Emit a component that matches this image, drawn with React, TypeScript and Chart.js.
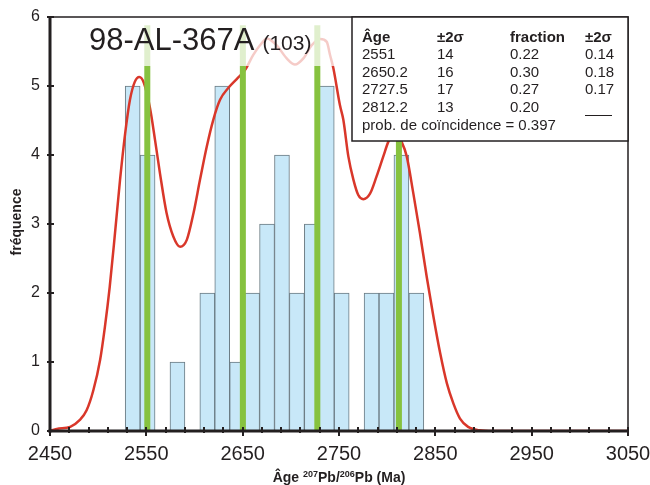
import { useEffect, useRef } from 'react';
import { Chart, registerables } from 'chart.js';

Chart.register(...registerables);

// Histogram bins (centres, Ma) and counts
const binCenters = [2535.8, 2551.3, 2566.8, 2582.3, 2597.8, 2613.3, 2628.8, 2644.3, 2659.8, 2675.3, 2690.8, 2706.3, 2721.8, 2737.3, 2752.8, 2768.3, 2783.8, 2799.3, 2814.8, 2830.3];
const binCounts = [5, 4, 0, 1, 0, 2, 5, 1, 2, 3, 4, 2, 3, 5, 2, 0, 2, 2, 4, 2];

// Probability density curve
const curveAges = [2450, 2457, 2471, 2481, 2488, 2495, 2502, 2507, 2512, 2517.5, 2522.7, 2528, 2533, 2538, 2542.7, 2547.6, 2553.8, 2559, 2564.2, 2571, 2578, 2585, 2592, 2599, 2605.7, 2612.7, 2619.5, 2626.5, 2635, 2643.8, 2652.4, 2661, 2668, 2675.3, 2685.3, 2695.7, 2704.3, 2713, 2721.7, 2730.3, 2737.3, 2740.7, 2744.1, 2751, 2754.5, 2759.7, 2765, 2770, 2775.2, 2782.2, 2789, 2796, 2801.2, 2808, 2815, 2820.3, 2827.2, 2834, 2841, 2848, 2855, 2862, 2868.7, 2875.6, 2884, 2896, 2910, 3050];
const curveFreq = [0.0, 0.03, 0.06, 0.16, 0.3, 0.59, 1.03, 1.51, 2.09, 2.87, 3.64, 4.31, 4.8, 5.06, 5.13, 5.04, 4.68, 4.22, 3.73, 3.16, 2.82, 2.67, 2.77, 3.16, 3.64, 4.12, 4.51, 4.8, 4.97, 5.1, 5.23, 5.45, 5.59, 5.69, 5.59, 5.4, 5.31, 5.4, 5.59, 5.68, 5.64, 5.45, 5.26, 4.72, 4.51, 3.98, 3.64, 3.42, 3.36, 3.44, 3.69, 3.98, 4.19, 4.33, 4.19, 3.98, 3.44, 2.87, 2.24, 1.66, 1.13, 0.69, 0.4, 0.18, 0.06, 0.01, 0.0, 0.0];

// Peak ages (green markers)
const peakAges = [2551, 2650.2, 2727.5, 2812.2];
const peakTop = 5.88;

// Axes
const xMin = 2450;
const xMax = 3050;
const xMajorStep = 100;
const xMinorStep = 20;
const yMin = 0;
const yMax = 6;

// Texts
const sampleName = '98-AL-367A';
const sampleCount = '(103)';
const tableHeader = ['Âge', '±2σ', 'fraction', '±2σ'];
const tableAges = ['2551', '2650.2', '2727.5', '2812.2'];
const tableAgeErr = ['14', '16', '17', '13'];
const tableFrac = ['0.22', '0.30', '0.27', '0.20'];
const tableFracErr = ['0.14', '0.18', '0.17', ''];
const probText = 'prob. de coïncidence = 0.397';
const yTitle = 'fréquence';

const FONT = '"Liberation Sans", Arial, sans-serif';
const INK = '#231f20';

const decorPlugin = {
  id: 'decor',
  afterDraw(chart: any) {
    const ctx = chart.ctx;
    const { left, right, top, bottom } = chart.chartArea;
    const xs = chart.scales.x;
    const ys = chart.scales.y;
    ctx.save();

    // translucent white label band
    ctx.fillStyle = 'rgba(255,255,255,0.74)';
    ctx.fillRect(left + 30, 25, 352 - (left + 30), 41);

    // sample title
    ctx.fillStyle = INK;
    ctx.textBaseline = 'alphabetic';
    ctx.textAlign = 'left';
    ctx.font = `31px ${FONT}`;
    ctx.fillText(sampleName, 89, 50);
    const w = ctx.measureText(sampleName).width;
    ctx.font = `21px ${FONT}`;
    ctx.fillText(sampleCount, 89 + w + 8, 50);

    // frame top/right
    ctx.strokeStyle = INK;
    ctx.lineWidth = 1.5;
    ctx.beginPath();
    ctx.moveTo(left, top);
    ctx.lineTo(right, top);
    ctx.lineTo(right, bottom);
    ctx.stroke();

    // axes
    ctx.lineWidth = 3;
    ctx.beginPath();
    ctx.moveTo(left, top - 1);
    ctx.lineTo(left, bottom + 1.5);
    ctx.stroke();
    ctx.beginPath();
    ctx.moveTo(left - 1.5, bottom);
    ctx.lineTo(right + 1, bottom);
    ctx.stroke();

    // x ticks
    ctx.lineWidth = 2;
    for (let v = xMin; v <= xMax + 0.001; v += xMinorStep) {
      const px = Math.round(xs.getPixelForValue(v));
      const major = Math.abs(((v - xMin) % xMajorStep)) < 0.001;
      ctx.beginPath();
      ctx.moveTo(px, bottom - 4);
      ctx.lineTo(px, bottom + (major ? 5 : 2));
      ctx.stroke();
    }
    // y ticks
    for (let v = yMin; v <= yMax; v += 1) {
      const py = Math.round(ys.getPixelForValue(v));
      ctx.beginPath();
      ctx.moveTo(left - 3, py);
      ctx.lineTo(left + 4, py);
      ctx.stroke();
    }

    // table
    const tx = 352, ty = top, tw = right - 352, th = 141 - top;
    ctx.fillStyle = '#ffffff';
    ctx.fillRect(tx, ty, tw, th);
    ctx.lineWidth = 1.5;
    ctx.strokeStyle = INK;
    ctx.strokeRect(tx, ty, tw, th);
    const cols = [362, 437, 510, 585];
    ctx.fillStyle = INK;
    ctx.textBaseline = 'middle';
    ctx.font = `bold 15px ${FONT}`;
    tableHeader.forEach((t, i) => ctx.fillText(t, cols[i], 38));
    ctx.font = `15px ${FONT}`;
    const rowY = [55, 72.5, 90, 107.5];
    tableAges.forEach((t, r) => {
      ctx.fillText(t, cols[0], rowY[r]);
      ctx.fillText(tableAgeErr[r], cols[1], rowY[r]);
      ctx.fillText(tableFrac[r], cols[2], rowY[r]);
      if (tableFracErr[r]) {
        ctx.fillText(tableFracErr[r], cols[3], rowY[r]);
      } else {
        ctx.lineWidth = 1;
        ctx.beginPath();
        ctx.moveTo(cols[3], rowY[r] + 8);
        ctx.lineTo(cols[3] + 27, rowY[r] + 8);
        ctx.stroke();
      }
    });
    ctx.fillText(probText, cols[0], 125.5);

    // axis titles
    ctx.font = `bold 14px ${FONT}`;
    ctx.save();
    ctx.translate(17, 222);
    ctx.rotate(-Math.PI / 2);
    ctx.textAlign = 'center';
    ctx.fillText(yTitle, 0, 0);
    ctx.restore();

    const parts: [string, boolean][] = [['Âge ', false], ['207', true], ['Pb/', false], ['206', true], ['Pb (Ma)', false]];
    let total = 0;
    parts.forEach(([s, sup]) => {
      ctx.font = sup ? `bold 9px ${FONT}` : `bold 14px ${FONT}`;
      total += ctx.measureText(s).width;
    });
    let cx = (left + right) / 2 - total / 2;
    ctx.textAlign = 'left';
    ctx.textBaseline = 'alphabetic';
    parts.forEach(([s, sup]) => {
      ctx.font = sup ? `bold 9px ${FONT}` : `bold 14px ${FONT}`;
      ctx.fillText(s, cx, sup ? 477 : 482);
      cx += ctx.measureText(s).width;
    });

    ctx.restore();
  },
};

export default function App() {
  const ref = useRef<HTMLCanvasElement | null>(null);
  useEffect(() => {
    document.body.style.margin = '0';
    const canvas = ref.current;
    if (!canvas) return;
    const chart = new Chart(canvas, {
      type: 'bar',
      data: {
        datasets: [
          {
            type: 'bar',
            data: binCenters.map((x, i) => ({ x, y: binCounts[i] })),
            backgroundColor: '#c8e8f8',
            borderColor: '#6a7a82',
            borderWidth: 1,
            barPercentage: 1,
            categoryPercentage: 1,
            order: 3,
          } as any,
          {
            type: 'line',
            data: curveAges.map((x, i) => ({ x, y: curveFreq[i] })),
            borderColor: '#d9372a',
            borderWidth: 2.5,
            pointRadius: 0,
            cubicInterpolationMode: 'monotone',
            fill: false,
            order: 2,
          } as any,
          ...peakAges.map((a) => ({
            type: 'line',
            data: [{ x: a, y: 0 }, { x: a, y: peakTop }],
            borderColor: '#86c23f',
            borderWidth: 6,
            borderCapStyle: 'butt',
            pointRadius: 0,
            fill: false,
            order: 1,
          } as any)),
        ],
      },
      options: {
        animation: false,
        responsive: false,
        maintainAspectRatio: false,
        layout: { padding: { top: 17, right: 22, left: 0, bottom: 0 } },
        plugins: { legend: { display: false }, tooltip: { enabled: false }, title: { display: false } },
        scales: {
          x: {
            type: 'linear',
            min: xMin,
            max: xMax,
            offset: false,
            grid: { display: false, drawTicks: false },
            border: { display: false },
            ticks: {
              stepSize: xMajorStep,
              autoSkip: false,
              maxRotation: 0,
              padding: 11,
              color: INK,
              font: { family: FONT, size: 20 },
              callback: (v: any) => String(v),
            },
            afterFit: (s: any) => {
              s.height = 54;
              s.paddingLeft = 0;
              s.paddingRight = 0;
            },
          },
          y: {
            min: yMin,
            max: yMax,
            grid: { display: false, drawTicks: false },
            border: { display: false },
            ticks: {
              stepSize: 1,
              padding: 10,
              color: INK,
              font: { family: FONT, size: 16 },
            },
            afterFit: (s: any) => {
              s.width = 50;
              s.paddingTop = 0;
              s.paddingBottom = 0;
            },
          },
        },
      },
      plugins: [decorPlugin],
    });
    return () => chart.destroy();
  }, []);
  return (
    <div style={{ position: 'absolute', left: 0, top: 0, width: 650, height: 485 }}>
      <canvas ref={ref} width={650} height={485} style={{ width: 650, height: 485, display: 'block' }} />
    </div>
  );
}
